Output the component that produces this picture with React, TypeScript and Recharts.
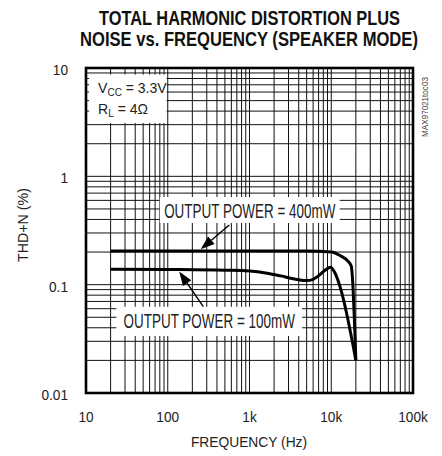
import React from "react";
import {
  LineChart,
  Line,
  XAxis,
  YAxis,
  CartesianGrid,
  ReferenceArea,
  ReferenceLine,
} from "recharts";

const FONT = '"Liberation Sans", Arial, Helvetica, sans-serif';

// grid / tick values (log decades)
const X_GRID = [
  10, 20, 30, 40, 50, 60, 70, 80, 90,
  100, 200, 300, 400, 500, 600, 700, 800, 900,
  1000, 2000, 3000, 4000, 5000, 6000, 7000, 8000, 9000,
  10000, 20000, 30000, 40000, 50000, 60000, 70000, 80000, 90000,
  100000,
];
const Y_GRID = [
  0.01, 0.02, 0.03, 0.04, 0.05, 0.06, 0.07, 0.08, 0.09,
  0.1, 0.2, 0.3, 0.4, 0.5, 0.6, 0.7, 0.8, 0.9,
  1, 2, 3, 4, 5, 6, 7, 8, 9,
  10,
];
const X_TICK_VALUES = [10, 100, 1000, 10000, 100000];
const X_TICK_LABELS = ["10", "100", "1k", "10k", "100k"];
const Y_TICK_VALUES = [0.01, 0.1, 1, 10];
const Y_TICK_LABELS = ["0.01", "0.1", "1", "10"];

// THD+N (%) vs frequency (Hz)
const P400 = [
  { f: 20, thd: 0.205 },
  { f: 100, thd: 0.205 },
  { f: 1000, thd: 0.205 },
  { f: 5000, thd: 0.204 },
  { f: 10000, thd: 0.2 },
  { f: 12800, thd: 0.186 },
  { f: 16200, thd: 0.163 },
  { f: 17600, thd: 0.148 },
  { f: 20000, thd: 0.02 },
];
const P100 = [
  { f: 20, thd: 0.139 },
  { f: 100, thd: 0.138 },
  { f: 500, thd: 0.136 },
  { f: 1000, thd: 0.134 },
  { f: 1500, thd: 0.129 },
  { f: 2000, thd: 0.124 },
  { f: 2500, thd: 0.12 },
  { f: 3000, thd: 0.116 },
  { f: 4000, thd: 0.111 },
  { f: 5000, thd: 0.109 },
  { f: 6000, thd: 0.112 },
  { f: 7000, thd: 0.121 },
  { f: 8000, thd: 0.132 },
  { f: 9000, thd: 0.141 },
  { f: 9800, thd: 0.145 },
  { f: 11000, thd: 0.13 },
  { f: 12800, thd: 0.096 },
  { f: 20000, thd: 0.02 },
];

// annotations (data units: Hz, %)
const ARROW_400 = [
  { x: 566, y: 0.356 },
  { x: 253, y: 0.212 },
];
const ARROW_100 = [
  { x: 272, y: 0.0627 },
  { x: 138, y: 0.132 },
];
const LABEL_400 = "OUTPUT POWER = 400mW";
const LABEL_100 = "OUTPUT POWER = 100mW";
const BOX_400 = { x1: 80, x2: 12700, y1: 0.371, y2: 0.645 };
const BOX_100 = { x1: 23.5, x2: 4400, y1: 0.0336, y2: 0.0625 };
const BOX_COND = { x1: 10.9, x2: 97, y1: 3.11, y2: 8.7 };

const NText = (props: any) => {
  const { x, y, sx = 1, rot = 0, children, ...rest } = props;
  return (
    <text
      transform={`translate(${x},${y}) rotate(${rot}) scale(${sx},1)`}
      fontFamily={FONT}
      {...rest}
    >
      {children}
    </text>
  );
};

const XTick = (props: any) => {
  const { x, y, payload } = props;
  const i = X_TICK_VALUES.indexOf(payload.value);
  if (i < 0) return <g />;
  return (
    <NText x={x} y={y + 29} sx={0.91} textAnchor="middle" fontSize={15} fill="#222">
      {X_TICK_LABELS[i]}
    </NText>
  );
};

const YTick = (props: any) => {
  const { x, y, payload } = props;
  const i = Y_TICK_VALUES.indexOf(payload.value);
  if (i < 0) return <g />;
  return (
    <NText x={x - 18} y={y + 7} sx={0.91} textAnchor="end" fontSize={15} fill="#222">
      {Y_TICK_LABELS[i]}
    </NText>
  );
};

const Arrow = (p: any) => {
  const { x1, y1, x2, y2 } = p;
  const dx = x2 - x1;
  const dy = y2 - y1;
  const len = Math.hypot(dx, dy) || 1;
  const ux = dx / len;
  const uy = dy / len;
  const hl = 14;
  const hw = 5;
  const bx = x2 - ux * hl;
  const by = y2 - uy * hl;
  const pts = `${x2},${y2} ${bx - uy * hw},${by + ux * hw} ${bx + uy * hw},${by - ux * hw}`;
  return (
    <g>
      <line x1={x1} y1={y1} x2={bx} y2={by} stroke="#000" strokeWidth={1.4} />
      <polygon points={pts} fill="#000" />
    </g>
  );
};

const labelBox = (text: string, baseOffset: number) => (p: any) => {
  const { x, y, width: w, height: h } = p;
  return (
    <g>
      <rect x={x} y={y} width={w} height={h} fill="#fff" />
      <NText
        x={x + w / 2}
        y={y + h - baseOffset}
        sx={0.69}
        textAnchor="middle"
        fontSize={19.5}
        fill="#222"
      >
        {text}
      </NText>
    </g>
  );
};

const CondBox = (p: any) => {
  const { x, y, width: w, height: h } = p;
  return (
    <g fill="#222">
      <rect x={x} y={y} width={w} height={h} fill="#fff" />
      <NText x={x + 9} y={y + 18.5} fontSize={14}>
        V<tspan fontSize={10} dy={3}>CC</tspan>
        <tspan dy={-3}> = 3.3V</tspan>
      </NText>
      <NText x={x + 9} y={y + 39} fontSize={14}>
        R<tspan fontSize={10} dy={3}>L</tspan>
        <tspan dy={-3}> = 4Ω</tspan>
      </NText>
    </g>
  );
};

const Border = (p: any) => {
  const { x, y, width: w, height: h } = p;
  return <rect x={x} y={y} width={w} height={h} fill="none" stroke="#000" strokeWidth={2.6} />;
};

export default function App() {
  return (
    <div style={{ position: "absolute", left: 0, top: 0, width: 442, height: 456, background: "#fff" }}>
      <LineChart
        width={442}
        height={456}
        margin={{ top: 68, right: 29, bottom: 33, left: 0 }}
      >
        <CartesianGrid stroke="#111" strokeWidth={1} />
        <XAxis
          type="number"
          dataKey="f"
          scale="log"
          domain={[10, 100000]}
          ticks={X_GRID}
          interval={0}
          allowDataOverflow
          axisLine={false}
          tickLine={false}
          tickSize={0}
          tickMargin={0}
          height={30}
          tick={<XTick />}
        />
        <YAxis
          type="number"
          dataKey="thd"
          scale="log"
          domain={[0.01, 10]}
          ticks={Y_GRID}
          interval={0}
          allowDataOverflow
          axisLine={false}
          tickLine={false}
          tickSize={0}
          tickMargin={0}
          width={86}
          tick={<YTick />}
        />
        <ReferenceArea {...BOX_COND} shape={CondBox} />
        <ReferenceArea {...BOX_400} shape={labelBox(LABEL_400, 4.5)} />
        <ReferenceArea {...BOX_100} shape={labelBox(LABEL_100, 7.5)} />
        <ReferenceArea x1={10} x2={100000} y1={0.01} y2={10} shape={Border} />
        <ReferenceLine segment={ARROW_400} shape={Arrow} />
        <ReferenceLine segment={ARROW_100} shape={Arrow} />
        <Line
          data={P400}
          dataKey="thd"
          type="monotone"
          stroke="#000"
          strokeWidth={3}
          dot={false}
          activeDot={false}
          isAnimationActive={false}
        />
        <Line
          data={P100}
          dataKey="thd"
          type="monotone"
          stroke="#000"
          strokeWidth={3}
          dot={false}
          activeDot={false}
          isAnimationActive={false}
        />
        <NText x={249.5} y={25} sx={0.82} textAnchor="middle" fontWeight="bold" fontSize={20} fill="#111">
          TOTAL HARMONIC DISTORTION PLUS
        </NText>
        <NText x={249} y={46} sx={0.83} textAnchor="middle" fontWeight="bold" fontSize={20} fill="#111">
          NOISE vs. FREQUENCY (SPEAKER MODE)
        </NText>
        <NText x={249} y={447} sx={0.92} textAnchor="middle" fontSize={15} fill="#222">
          FREQUENCY (Hz)
        </NText>
        <NText x={27.5} y={225} rot={-90} sx={0.95} textAnchor="middle" fontSize={15} fill="#222">
          THD+N (%)
        </NText>
        <NText x={428} y={107} rot={-90} sx={0.9} textAnchor="middle" fontSize={9} fill="#444">
          MAX97021toc03
        </NText>
      </LineChart>
    </div>
  );
}
